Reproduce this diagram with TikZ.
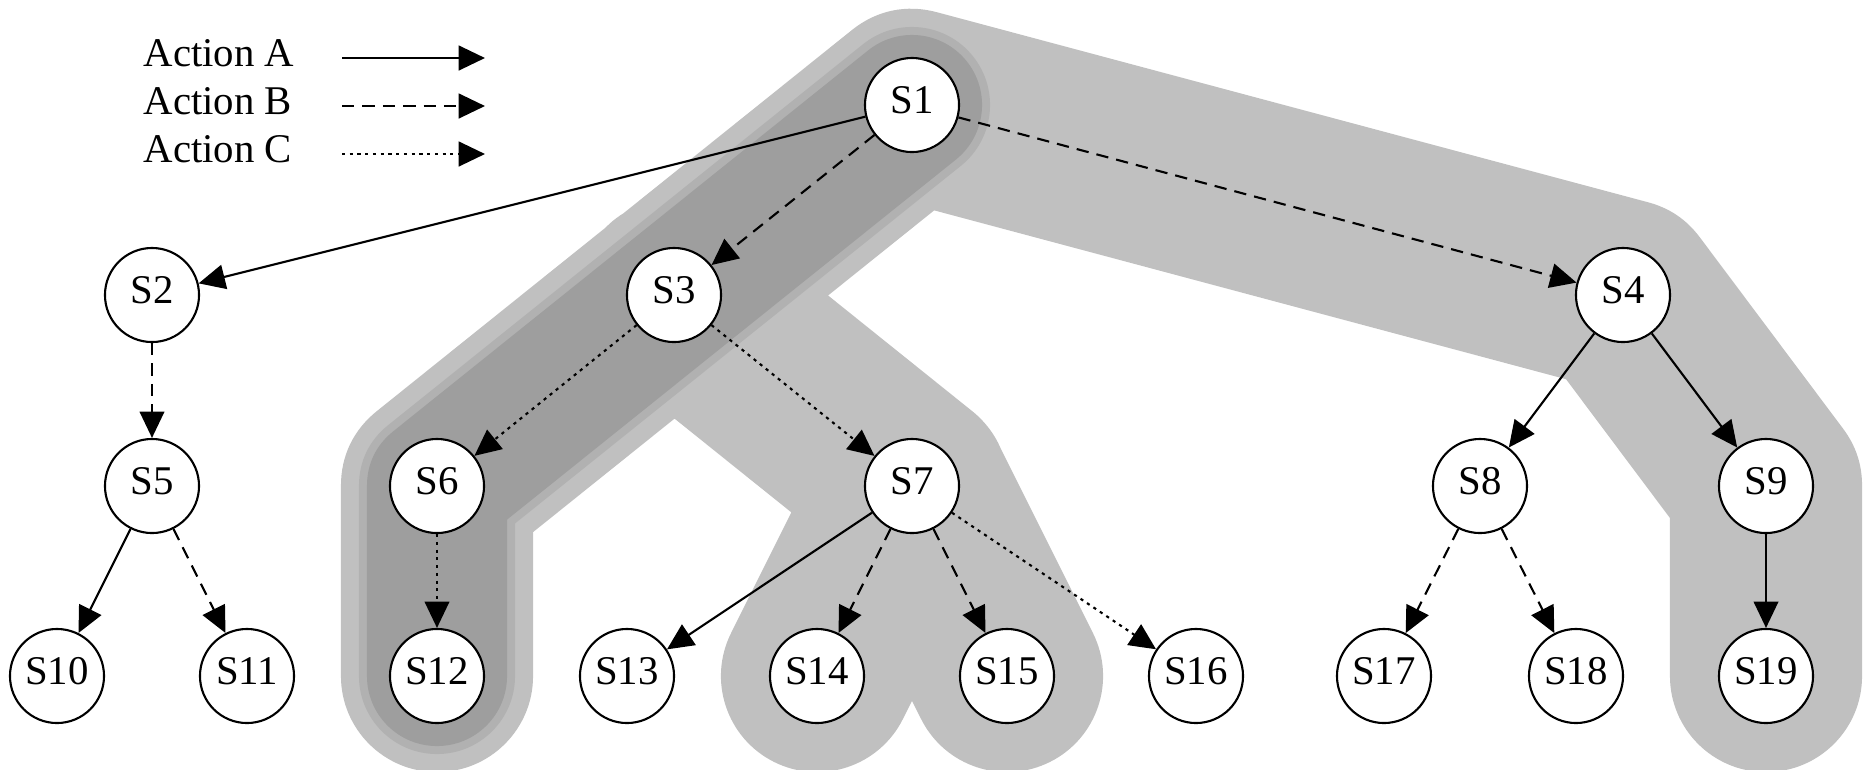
\documentclass[tikz,border=0pt]{standalone}
\usepackage{fontspec}
\setmainfont{Liberation Serif}
\usetikzlibrary{arrows.meta,backgrounds}
\definecolor{bandlight}{RGB}{192,192,192}
\definecolor{bandmid}{RGB}{177,177,177}
\definecolor{banddark}{RGB}{158,158,158}

\begin{document}
\begin{tikzpicture}[x=0.01cm, y=-0.01cm,
  state/.style={circle, draw=black, line width=0.6pt, fill=white,
    minimum size=0.94cm, inner sep=0pt, text depth=0.1cm,
    font=\fontsize{11.6}{13}\selectfont},
  arr/.style={line width=0.6pt, -{Triangle[length=7.5pt,width=7pt]}},
  actA/.style={arr},
  actB/.style={arr, dash pattern=on 3.5pt off 2.3pt},
  actC/.style={arr, dash pattern=on 0.9pt off 1.3pt},
  legtext/.style={anchor=base west, inner sep=0pt,
    font=\fontsize{11.6}{13}\selectfont},
  band/.style={line cap=round, line join=round}
]
\useasboundingbox (0,0) rectangle (1872,769);

% states
\node[state] (S1)  at (912,105)  {S1};
\node[state] (S2)  at (152,295)  {S2};
\node[state] (S3)  at (674,295)  {S3};
\node[state] (S4)  at (1623,295) {S4};
\node[state] (S5)  at (152,486)  {S5};
\node[state] (S6)  at (437,486)  {S6};
\node[state] (S7)  at (912,486)  {S7};
\node[state] (S8)  at (1480,486) {S8};
\node[state] (S9)  at (1766,486) {S9};
\node[state] (S10) at (57,676)   {S10};
\node[state] (S11) at (247,676)  {S11};
\node[state] (S12) at (437,676)  {S12};
\node[state] (S13) at (627,676)  {S13};
\node[state] (S14) at (817,676)  {S14};
\node[state] (S15) at (1007,676) {S15};
\node[state] (S16) at (1196,676) {S16};
\node[state] (S17) at (1384,676) {S17};
\node[state] (S18) at (1576,676) {S18};
\node[state] (S19) at (1766,676) {S19};

% highlighted sub-trees behind the graph
\begin{scope}[on background layer]
  \fill[white] (0,0) rectangle (1872,769);
  \draw[band, bandlight, line width=1.92cm]
    (S12.center) -- (S6.center) -- (S1.center) -- (S4.center)
      -- (S9.center) -- (S19.center)
    (S3.center) -- (S7.center) -- (S14.center)
    (S7.center) -- (S15.center);
  \draw[band, bandmid, line width=1.56cm]
    (S12.center) -- (S6.center) -- (S1.center);
  \draw[band, banddark, line width=1.40cm]
    (S12.center) -- (S6.center) -- (S1.center);
\end{scope}

% transitions
\draw[actA] (S1) -- (S2);
\draw[actB] (S1) -- (S3);
\draw[actB] (S1) -- (S4);
\draw[actB] (S2) -- (S5);
\draw[actC] (S3) -- (S6);
\draw[actC] (S3) -- (S7);
\draw[actA] (S4) -- (S8);
\draw[actA] (S4) -- (S9);
\draw[actA] (S5) -- (S10);
\draw[actB] (S5) -- (S11);
\draw[actC] (S6) -- (S12);
\draw[actA] (S7) -- (S13);
\draw[actB] (S7) -- (S14);
\draw[actB] (S7) -- (S15);
\draw[actC] (S7) -- (S16);
\draw[actB] (S8) -- (S17);
\draw[actB] (S8) -- (S18);
\draw[actA] (S9) -- (S19);

% legend
\node[legtext] (LA) at (143,66)  {Action A};
\node[legtext] (LB) at (143,114) {Action B};
\node[legtext] (LC) at (143,162) {Action C};
\coordinate (LAs) at (342,58);  \coordinate (LAe) at (485,58);
\coordinate (LBs) at (342,106); \coordinate (LBe) at (485,106);
\coordinate (LCs) at (342,154); \coordinate (LCe) at (485,154);
\draw[actA, line width=0.8pt] (LAs) -- (LAe);
\draw[actB, line width=0.8pt] (LBs) -- (LBe);
\draw[actC, line width=0.8pt] (LCs) -- (LCe);
\end{tikzpicture}
\end{document}
